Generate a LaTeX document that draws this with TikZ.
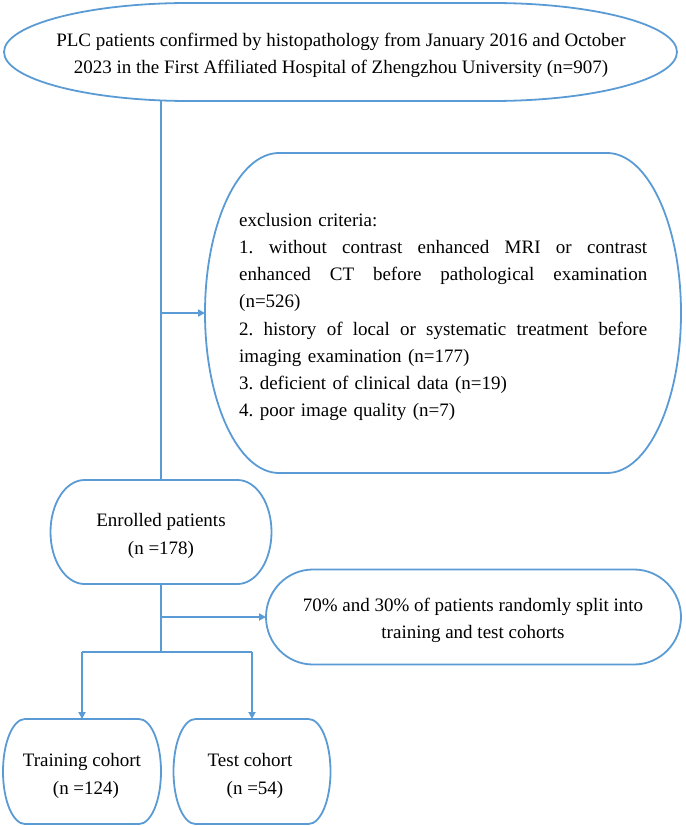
\documentclass[tikz,border=0pt]{standalone}
\usepackage{fontspec}
\setmainfont{Liberation Serif}
\usetikzlibrary{calc,arrows.meta}
\definecolor{lineblue}{HTML}{5B9BD5}
\newcommand\pillpath[2]{%
  \draw[outl] let \p1=(#1.north west), \p2=(#1.south east), \n1={(\y1-\y2)/2} in
    (\x1+#2,\y1) -- (\x2-#2,\y1)
    arc[start angle=90, end angle=-90, x radius=#2, y radius=\n1]
    -- (\x1+#2,\y2)
    arc[start angle=270, end angle=90, x radius=#2, y radius=\n1] -- cycle;}
\newcommand\fullline[1]{\leavevmode\hbox to 408pt{#1}}
\begin{document}
\begin{tikzpicture}[x=1pt,y=1pt,
  outl/.style={draw=lineblue, line width=1.8pt},
  conn/.style={draw=lineblue, line width=1.8pt},
  arr/.style={conn, -{Triangle[length=7pt,width=7pt]}},
  shapebox/.style={draw=none, inner sep=0pt, outer sep=0pt, rectangle},
  txt/.style={inner sep=0pt, align=center, font=\fontsize{19}{27.2}\selectfont},
]
\useasboundingbox (0,0) rectangle (685,-826);
% shapes
\node[shapebox, minimum width=673pt, minimum height=98pt] (top) at (340.5,-52) {};
\node[shapebox, minimum width=476pt, minimum height=320pt] (ex) at (443,-313) {};
\node[shapebox, minimum width=221pt, minimum height=104pt] (enr) at (161,-532) {};
\node[shapebox, minimum width=415pt, minimum height=95pt] (split) at (473.5,-617) {};
\node[shapebox, minimum width=158pt, minimum height=105pt] (train) at (82,-771.5) {};
\node[shapebox, minimum width=157pt, minimum height=105pt] (test) at (252,-771.5) {};
\pillpath{top}{185pt}
\pillpath{ex}{74pt}
\pillpath{enr}{34pt}
\pillpath{split}{47pt}
\pillpath{train}{22pt}
\pillpath{test}{22pt}
% texts
\node[txt] (toptext) at (341,-55) {PLC patients confirmed by histopathology from January 2016 and October\\2023 in the First Affiliated Hospital of Zhengzhou University (n=907)};
\node[txt, anchor=west, align=left, text width=408pt] (extext) at (239,-317) {exclusion criteria:\\
\fullline{1.\hfill without\hfill contrast\hfill enhanced\hfill MRI\hfill or\hfill contrast}\\
\fullline{enhanced\hfill CT\hfill before\hfill pathological\hfill examination}\\
(n=526)\\
\fullline{2.\hfill history\hfill of\hfill local\hfill or\hfill systematic\hfill treatment\hfill before}\\
imaging examination (n=177)\\
3.\ deficient of clinical data (n=19)\\
4.\ poor image quality (n=7)};
\node[txt] (enrtext) at (161,-536) {Enrolled patients\\(n =178)};
\node[txt] (splittext) at (473,-620) {70\% and 30\% of patients randomly split into\\training and test cohorts};
\node[txt] (traintext) at (82,-776) {Training cohort\\\hspace*{8pt}(n =124)};
\node[txt] (testtext) at (250,-776) {Test cohort\\\hspace*{10pt}(n =54)};
% connectors
\coordinate (br) at (enr.south |- 0,-652);
\draw[conn] (enr.north |- top.south) -- (enr.north);
\draw[arr] (enr.north |- ex.west) -- (ex.west);
\draw[conn] (enr.south) -- (br);
\draw[arr] (enr.south |- split.west) -- (split.west);
\draw[conn] (train.north |- br) -- (test.north |- br);
\draw[arr] (train.north |- br) -- (train.north);
\draw[arr] (test.north |- br) -- (test.north);
\end{tikzpicture}
\end{document}
